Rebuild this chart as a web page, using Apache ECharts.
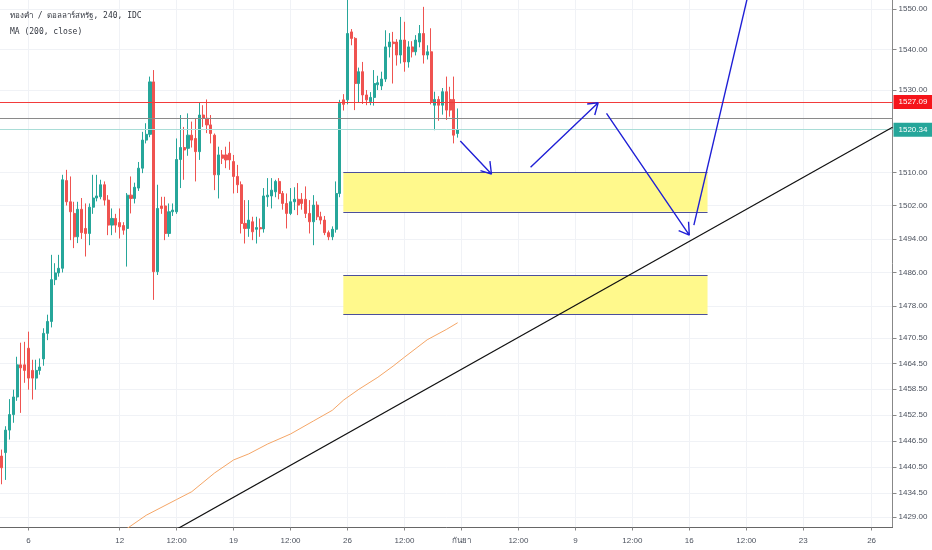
<!DOCTYPE html>
<html>
<head>
<meta charset="utf-8">
<script src="https://cdn.jsdelivr.net/npm/echarts@6/dist/echarts.min.js"></script>
<style>
  html, body { margin: 0; padding: 0; background: #ffffff; }
  #chart { width: 932px; height: 550px; }
</style>
</head>
<body>
<div id="chart"></div>
<script>
// ---- data ----
const barCount = 235; // 4h bars along the time axis (history + future space)

const tickIndex = [7, 31, 46, 61, 76, 91, 106, 121, 136, 151, 166, 181, 196, 211, 229];
const tickText  = ['6', '12', '12:00', '19', '12:00', '26', '12:00', 'กันยา', '12:00', '9', '12:00', '16', '12:00', '23', '26'];

const priceTicks = [1429, 1434.5, 1440.5, 1446.5, 1452.5, 1458.5, 1464.5, 1470.5, 1478, 1486, 1494, 1502, 1510, 1530, 1540, 1550];
const priceMin = 1426.6;
const priceMax = 1552.2;

// [open, close, low, high]
const candles = [
  [1443.0,1440.3,1436.5,1444.5],[1443.8,1449.0,1437.5,1449.9],[1449.0,1452.6,1446.8,1456.2],[1452.6,1456.7,1450.7,1458.4],
  [1456.7,1464.2,1455.8,1466.1],[1464.2,1463.5,1453.0,1469.4],[1464.2,1462.9,1460.0,1469.6],[1468.1,1461.1,1458.4,1472.0],
  [1462.9,1461.1,1456.1,1465.4],[1461.1,1462.9,1458.4,1465.4],[1462.9,1463.7,1461.9,1465.7],[1465.6,1471.6,1464.0,1472.8],
  [1471.6,1474.4,1470.0,1476.0],[1474.4,1484.3,1473.0,1490.2],[1484.3,1485.9,1483.0,1488.2],[1485.9,1487.0,1485.0,1490.2],
  [1487.0,1508.2,1486.0,1509.4],[1508.0,1502.9,1502.0,1510.6],[1502.9,1500.5,1493.7,1509.0],[1500.1,1494.5,1491.8,1502.9],
  [1494.5,1501.1,1493.0,1502.9],[1501.1,1495.5,1494.0,1503.8],[1496.5,1495.3,1489.8,1502.5],[1495.3,1501.6,1492.5,1502.5],
  [1501.6,1503.8,1500.0,1509.4],[1503.8,1504.3,1503.0,1509.4],[1504.1,1507.0,1503.5,1508.2],[1507.0,1503.3,1502.0,1507.8],
  [1503.3,1497.3,1494.9,1504.5],[1497.3,1498.9,1494.9,1501.3],[1498.9,1497.3,1495.5,1500.0],[1497.9,1496.9,1494.1,1501.3],
  [1497.2,1496.1,1495.0,1498.0],[1496.5,1504.5,1487.4,1505.0],[1504.5,1503.7,1500.1,1509.0],[1503.7,1506.4,1502.5,1507.5],
  [1506.2,1511.0,1505.5,1512.5],[1511.0,1517.8,1509.8,1519.8],[1517.8,1519.2,1517.0,1521.9],[1519.2,1532.0,1518.5,1533.3],
  [1532.0,1486.2,1479.5,1534.9],[1486.2,1501.3,1485.4,1507.0],[1501.9,1501.3,1500.0,1504.1],[1501.9,1495.3,1493.7,1504.1],
  [1495.3,1500.5,1494.5,1502.5],[1500.5,1500.9,1499.5,1502.5],[1500.5,1513.1,1500.0,1518.2],[1513.1,1516.0,1506.2,1523.9],
  [1516.0,1515.4,1508.2,1521.0],[1515.8,1519.0,1514.0,1524.3],[1519.0,1517.8,1516.0,1522.3],[1518.2,1515.0,1507.8,1523.1],
  [1515.0,1523.9,1513.0,1526.9],[1523.9,1523.1,1521.0,1526.3],[1523.1,1521.5,1519.5,1527.7],[1521.5,1519.4,1517.0,1523.9],
  [1519.0,1509.4,1505.7,1519.4],[1509.4,1514.2,1503.7,1516.2],[1514.2,1513.4,1512.0,1515.4],[1514.2,1513.0,1511.0,1516.2],
  [1514.6,1513.0,1510.6,1517.4],[1512.6,1509.0,1504.9,1514.2],[1509.0,1507.0,1505.0,1511.8],[1507.0,1497.7,1495.3,1507.8],
  [1497.7,1496.5,1492.9,1503.3],[1496.5,1498.5,1494.5,1503.3],[1498.1,1495.7,1493.7,1499.3],[1496.3,1496.7,1492.9,1499.3],
  [1496.7,1496.4,1494.5,1498.9],[1496.4,1504.3,1495.5,1506.2],[1504.1,1504.5,1501.7,1508.6],[1504.3,1505.7,1501.3,1508.6],
  [1505.3,1507.8,1504.0,1508.2],[1507.8,1504.9,1503.5,1508.6],[1504.9,1502.5,1501.0,1505.5],[1502.5,1500.1,1496.5,1504.9],
  [1500.1,1502.9,1499.7,1506.2],[1502.9,1503.5,1500.9,1506.4],[1503.5,1502.1,1499.7,1507.4],[1503.5,1502.5,1501.0,1505.0],
  [1503.5,1500.1,1499.0,1506.6],[1500.1,1498.1,1495.3,1503.3],[1498.1,1502.1,1492.5,1504.5],[1502.1,1499.3,1498.5,1503.0],
  [1499.3,1498.5,1497.5,1500.5],[1498.5,1495.5,1494.9,1499.5],[1495.5,1494.5,1493.7,1496.0],[1494.5,1496.3,1493.7,1497.0],
  [1496.3,1504.9,1495.5,1507.8],[1504.9,1526.8,1504.0,1527.6],[1527.6,1526.5,1525.0,1529.0],[1527.6,1543.9,1526.5,1555.0],
  [1544.3,1542.7,1541.0,1545.0],[1542.7,1531.6,1525.1,1543.0],[1531.6,1534.5,1527.0,1535.5],[1534.5,1528.8,1526.6,1536.9],
  [1528.8,1527.6,1526.3,1530.0],[1527.2,1528.2,1526.3,1529.5],[1528.2,1531.6,1526.2,1534.9],[1531.3,1531.8,1530.0,1533.5],
  [1531.0,1532.7,1530.0,1534.5],[1532.7,1540.6,1532.0,1544.7],[1540.6,1541.8,1538.0,1544.0],[1541.8,1541.4,1531.6,1544.3],
  [1541.8,1538.6,1536.0,1542.5],[1538.6,1542.3,1536.5,1548.0],[1542.3,1536.9,1534.5,1546.8],[1536.9,1540.6,1535.5,1542.0],
  [1540.6,1539.4,1538.0,1542.0],[1539.4,1542.3,1538.5,1543.5],[1541.8,1543.9,1540.5,1546.0],[1543.9,1538.6,1536.5,1550.5],
  [1538.6,1539.4,1537.5,1541.0],[1539.4,1527.2,1526.5,1545.2],[1526.3,1527.7,1520.2,1529.6],[1527.7,1526.3,1522.5,1528.5],
  [1526.3,1529.6,1524.0,1530.5],[1529.6,1525.1,1522.7,1533.3],[1527.7,1525.1,1523.5,1530.8],[1527.7,1519.0,1517.0,1533.3],
  [1519.4,1520.34,1518.4,1525.5]
];

// MA(200, close) read at bar positions
const maIndex = [30, 38, 46, 50, 56, 61, 65, 70, 76, 82, 87, 90, 94, 99, 103, 106, 112, 117, 120];
const maValue = [1424.6, 1429.4, 1433.0, 1434.8, 1439.1, 1442.1, 1443.5, 1445.8, 1448.1, 1451.1, 1453.6, 1456.0, 1458.5, 1461.3, 1463.9, 1466.0, 1470.1, 1472.5, 1474.1];

// horizontal levels
const levelRed = 1527.09;
const levelGrey = 1523.1;
const levelLast = 1520.34;

// drawings: [barPosition, price]
const trendLine = [[46, 1426.2], [234.5, 1520.9]];
const zoneUpper = { from: 89.9, to: 185.8, top: 1509.9, bottom: 1500.5 };
const zoneLower = { from: 89.9, to: 185.8, top: 1485.4, bottom: 1476.0 };
const arrow1 = [[120.7, 1517.6], [128.9, 1509.6], [126.0, 1510.4], [128.9, 1509.6], [128.5, 1512.7]];
const arrow2 = [[139.2, 1511.2], [157.0, 1526.9], [154.1, 1526.6], [157.0, 1526.9], [156.1, 1523.9]];
const arrow3 = [[159.2, 1524.3], [181.0, 1494.9], [178.2, 1496.0], [181.0, 1494.9], [180.8, 1498.1]];
const arrow4 = [[182.2, 1497.3], [197.0, 1555.6]];

// ---- build chart ----
const categories = [];
for (let i = 0; i < barCount; i++) categories.push(String(i));
const labelAt = {};
tickIndex.forEach((ix, k) => { labelAt[ix] = tickText[k]; });
const showTick = (idx) => labelAt[idx] !== undefined;
const maPoints = maIndex.map((ix, k) => [ix, maValue[k]]);

const FONT = "'Liberation Sans', 'Noto Sans', sans-serif";
const TEXT = '#4c525e';
const GRID = '#f0f2f6';
const BLUE = '#2020d6';

function arrowSeries(pts) {
  return {
    type: 'line', xAxisIndex: 1, yAxisIndex: 0, data: pts, symbol: 'none',
    lineStyle: { color: BLUE, width: 1.4 }, silent: true, z: 6
  };
}

const chart = echarts.init(document.getElementById('chart'), null, { renderer: 'canvas' });
chart.setOption({
  animation: false,
  backgroundColor: '#ffffff',
  title: {
    text: 'ทองคำ / ดอลลาร์สหรัฐ, 240, IDC',
    subtext: 'MA (200, close)',
    left: 5, top: 7, itemGap: 8,
    textStyle: { fontSize: 8, fontWeight: 'normal', color: '#333740', fontFamily: "'DejaVu Sans Mono', monospace" },
    subtextStyle: { fontSize: 8, color: '#333740', fontFamily: "'DejaVu Sans Mono', monospace" }
  },
  grid: { left: -2, right: 39.5, top: 0, bottom: 22.5 },
  xAxis: [
    {
      type: 'category', data: categories, boundaryGap: true,
      axisLine: { show: true, onZero: false, lineStyle: { color: '#666', width: 1 } },
      axisTick: { show: true, alignWithLabel: true, interval: showTick, length: 3, lineStyle: { color: '#888' } },
      axisLabel: { interval: showTick, formatter: (v, idx) => labelAt[idx] || '', fontSize: 8, color: TEXT, margin: 9, fontFamily: FONT },
      splitLine: { show: false }
    },
    {
      type: 'value', min: -0.5, max: barCount - 0.5, show: true,
      axisLine: { show: false, onZero: false }, axisLabel: { show: false },
      axisTick: { show: false, customValues: tickIndex },
      splitLine: { show: true, lineStyle: { color: GRID, width: 1 } }
    }
  ],
  yAxis: {
    type: 'log', logBase: 10, min: priceMin, max: priceMax, position: 'right',
    axisLine: { show: true, onZero: false, lineStyle: { color: '#888' } },
    axisTick: { show: true, length: 4, customValues: priceTicks, lineStyle: { color: '#888' } },
    axisLabel: { customValues: priceTicks, formatter: (v) => Number(v).toFixed(2), fontSize: 8, color: TEXT, margin: 6, fontFamily: FONT },
    splitLine: { show: true, lineStyle: { color: GRID, width: 1 } },
    minorTick: { show: false }, minorSplitLine: { show: false }
  },
  series: [
    {
      type: 'candlestick', xAxisIndex: 0, yAxisIndex: 0, data: candles, barWidth: '68%',
      itemStyle: { color: '#26a69a', color0: '#ef5350', borderColor: '#26a69a', borderColor0: '#ef5350', borderWidth: 1 },
      z: 3,
      markLine: {
        silent: true, symbol: ['none', 'none'], animation: false,
        data: [
          { yAxis: levelGrey, lineStyle: { color: '#8a8a8a', width: 1, type: 'solid' }, label: { show: false } },
          { yAxis: levelLast, lineStyle: { color: '#a9ddd7', width: 1, type: 'solid' },
            label: { show: true, position: 'end', formatter: '1520.34', color: '#fff', backgroundColor: '#26a69a', padding: [3, 6, 3, 5], fontSize: 8, distance: 1, fontFamily: FONT } },
          { yAxis: levelRed, lineStyle: { color: '#f23b3b', width: 1, type: 'solid' },
            label: { show: true, position: 'end', formatter: '1527.09', color: '#fff', backgroundColor: '#f5141a', padding: [3, 6, 3, 5], fontSize: 8, distance: 1, fontFamily: FONT } }
        ]
      }
    },
    {
      type: 'line', xAxisIndex: 1, yAxisIndex: 0, data: maPoints, symbol: 'none',
      lineStyle: { color: '#f5a667', width: 1 }, silent: true, z: 4
    },
    {
      type: 'line', xAxisIndex: 1, yAxisIndex: 0, data: [], symbol: 'none', silent: true, z: 2,
      markArea: {
        silent: true,
        itemStyle: { color: 'rgba(255, 249, 140, 1)' },
        data: [
          [{ coord: [zoneUpper.from, zoneUpper.top] }, { coord: [zoneUpper.to, zoneUpper.bottom] }],
          [{ coord: [zoneLower.from, zoneLower.top] }, { coord: [zoneLower.to, zoneLower.bottom] }]
        ]
      },
      markLine: {
        silent: true, symbol: ['none', 'none'], label: { show: false },
        lineStyle: { color: '#4b4f9c', width: 1, type: 'solid' },
        data: [
          [{ coord: [zoneUpper.from, zoneUpper.top] }, { coord: [zoneUpper.to, zoneUpper.top] }],
          [{ coord: [zoneUpper.from, zoneUpper.bottom] }, { coord: [zoneUpper.to, zoneUpper.bottom] }],
          [{ coord: [zoneLower.from, zoneLower.top] }, { coord: [zoneLower.to, zoneLower.top] }],
          [{ coord: [zoneLower.from, zoneLower.bottom] }, { coord: [zoneLower.to, zoneLower.bottom] }]
        ]
      }
    },
    {
      type: 'line', xAxisIndex: 1, yAxisIndex: 0, data: trendLine, symbol: 'none',
      lineStyle: { color: '#111', width: 1.2 }, silent: true, z: 5
    },
    arrowSeries(arrow1),
    arrowSeries(arrow2),
    arrowSeries(arrow3),
    arrowSeries(arrow4)
  ]
});
</script>
</body>
</html>
